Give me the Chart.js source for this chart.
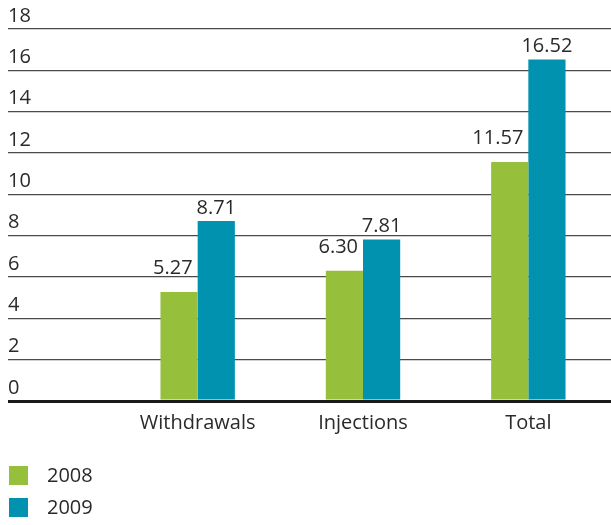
<!DOCTYPE html>
<html>
<head>
<meta charset="utf-8">
<script src="https://cdn.jsdelivr.net/npm/chart.js@4"></script>
<style>
  html, body { margin: 0; padding: 0; background: #fff; }
  #wrap { width: 611px; height: 525px; }
</style>
</head>
<body>
<div id="wrap"><canvas id="chart"></canvas></div>
<script>
// categories and yearly values
const categories = ["Withdrawals", "Injections", "Total"];
const years = ["2008", "2009"];
const values2008 = [5.27, 6.3, 11.57];
const values2009 = [8.71, 7.81, 16.52];
const yTicks = [0, 2, 4, 6, 8, 10, 12, 14, 16, 18];

const green = "#96bf3c";
const blue = "#0092ae";
const textColor = "#2a2a2a";
const fontFamily = "'Open Sans', 'Noto Sans', sans-serif";

//Draws the value above every bar
const valueLabels = {
  id: "valueLabels",
  afterDatasetsDraw(chart) {
    const ctx = chart.ctx;
    ctx.save();
    ctx.font = "20px " + fontFamily;
    ctx.fillStyle = textColor;
    ctx.textBaseline = "bottom";
    chart.data.datasets.forEach((ds, i) => {
      const meta = chart.getDatasetMeta(i);
      meta.data.forEach((bar, j) => {
        const txt = ds.data[j].toFixed(2);
        if (i === 0) {
          // first year: pushed left so it clears the taller bar
          ctx.textAlign = "right";
          ctx.fillText(txt, bar.x + bar.width / 2 - 5, bar.y - 14);
        } else {
          ctx.textAlign = "center";
          ctx.fillText(txt, bar.x, bar.y - 3);
        }
      });
    });
    ctx.restore();
  },
};

//Legend in the lower left corner, one row per year
const sideLegend = {
  id: "sideLegend",
  afterDraw(chart) {
    const ctx = chart.ctx;
    ctx.save();
    ctx.font = "20px " + fontFamily;
    ctx.textBaseline = "middle";
    ctx.textAlign = "left";
    chart.data.datasets.forEach((ds, i) => {
      const top = 466 + i * 32;
      ctx.fillStyle = ds.backgroundColor;
      ctx.fillRect(9, top, 19, 19);
      ctx.fillStyle = textColor;
      ctx.fillText(ds.label, 47, top + 10);
    });
    ctx.restore();
  },
};

let myChart = new Chart(document.getElementById("chart"), {
  type: "bar",
  plugins: [valueLabels, sideLegend],
  data: {
    labels: categories,
    datasets: [
      { label: years[0], data: values2008, backgroundColor: green },
      { label: years[1], data: values2009, backgroundColor: blue },
    ],
  },
  options: {
    responsive: true,
    maintainAspectRatio: false,
    animation: false,
    layout: { padding: { left: 8, top: 29, right: 0, bottom: 0 } },
    datasets: {
      bar: { categoryPercentage: 0.45, barPercentage: 1, borderWidth: 0 },
    },
    plugins: {
      legend: { display: false },
      tooltip: { enabled: false },
    },
    scales: {
      x: {
        grid: { display: false, drawTicks: false },
        border: { display: false },
        ticks: {
          color: textColor,
          font: { family: fontFamily, size: 20 },
          padding: 10,
        },
        afterFit: (scale) => {
          scale.height = 124;
        },
      },
      y: {
        min: 0,
        max: 18,
        afterBuildTicks: (scale) => {
          scale.ticks = yTicks.map((v) => ({ value: v }));
        },
        border: { display: false },
        grid: {
          drawTicks: true,
          tickLength: 107,
          color: (c) => (c.tick && c.tick.value === 0 ? "#1a1a1a" : "#4a4a4a"),
          tickColor: (c) => (c.tick && c.tick.value === 0 ? "#1a1a1a" : "#4a4a4a"),
          lineWidth: (c) => (c.tick && c.tick.value === 0 ? 3 : 1.3),
        },
        ticks: {
          color: textColor,
          font: { family: fontFamily, size: 20 },
          crossAlign: "far",
          labelOffset: -13,
          padding: 0,
        },
        afterFit: (scale) => {
          scale.width = 107;
        },
      },
    },
  },
});
</script>
</body>
</html>
